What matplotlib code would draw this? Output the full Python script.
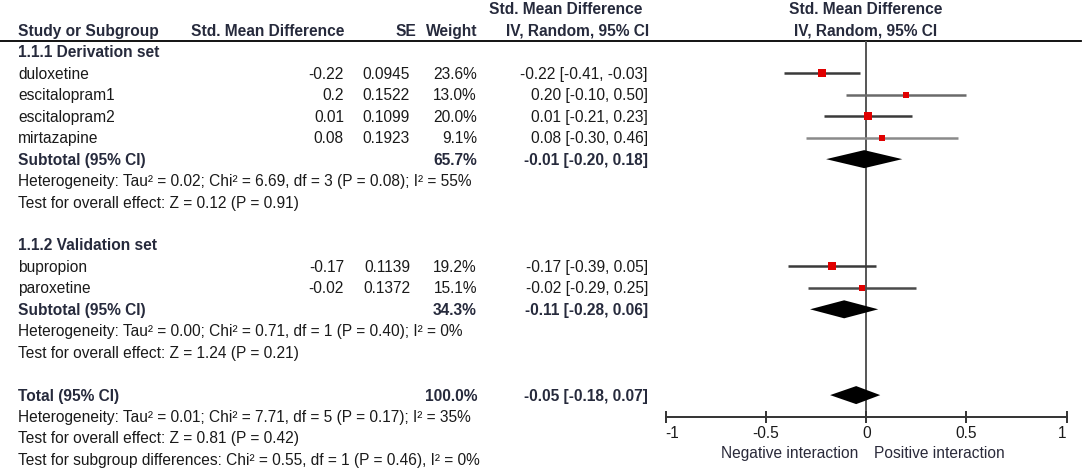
import matplotlib.pyplot as plt

# study level data
studies = ["duloxetine", "escitalopram1", "escitalopram2", "mirtazapine", "bupropion", "paroxetine"]
smd = [-0.22, 0.2, 0.01, 0.08, -0.17, -0.02]
se = [0.0945, 0.1522, 0.1099, 0.1923, 0.1139, 0.1372]
weight = [23.6, 13.0, 20.0, 9.1, 19.2, 15.1]
ci_lo = [-0.41, -0.10, -0.21, -0.30, -0.39, -0.29]
ci_hi = [-0.03, 0.50, 0.23, 0.46, 0.05, 0.25]
study_rows = [3, 4, 5, 6, 12, 13]

# subgroups
group_titles = ["1.1.1 Derivation set", "1.1.2 Validation set"]
group_rows = [2, 11]
sub_est = [-0.01, -0.11]
sub_lo = [-0.20, -0.28]
sub_hi = [0.18, 0.06]
sub_weight = [65.7, 34.3]
sub_rows = [7, 14]
sub_notes = [
    ["Heterogeneity: Tau² = 0.02; Chi² = 6.69, df = 3 (P = 0.08); I² = 55%",
     "Test for overall effect: Z = 0.12 (P = 0.91)"],
    ["Heterogeneity: Tau² = 0.00; Chi² = 0.71, df = 1 (P = 0.40); I² = 0%",
     "Test for overall effect: Z = 1.24 (P = 0.21)"],
]

# overall
total_est, total_lo, total_hi, total_weight = -0.05, -0.18, 0.07, 100.0
total_row = 18
total_notes = [
    "Heterogeneity: Tau² = 0.01; Chi² = 7.71, df = 5 (P = 0.17); I² = 35%",
    "Test for overall effect: Z = 0.81 (P = 0.42)",
    "Test for subgroup differences: Chi² = 0.55, df = 1 (P = 0.46), I² = 0%",
]

xticks = [-1, -0.5, 0, 0.5, 1]
xticklabels = ["-1", "-0.5", "0", "0.5", "1"]

plt.rcParams["font.family"] = ["Liberation Sans", "DejaVu Sans"]
FS = 11.2
TXT = "#1a1a1a"
BOLD = "#262a3c"

W, H = 1084, 477
fig = plt.figure(figsize=(W / 100, H / 100), dpi=100)

# rows: pixel y = 10 + 21.45 * row
row_h = 21.45
ylim = ((H - 10) / row_h, -10 / row_h)

# text table axes (x in pixels)
tx = fig.add_axes([0, 0, 1, 1])
tx.set_xlim(0, W)
tx.set_ylim(*ylim)
tx.axis("off")

# forest axes (x in effect units)
x0, x1 = 665.7, 1066.7
fx = fig.add_axes([x0 / W, 0, (x1 - x0) / W, 1])
fx.set_xlim(-1, 1)
fx.set_ylim(*ylim)
fx.patch.set_alpha(0)


def t(x, row, s, ha="left", bold=False):
    tx.text(x, row, s, ha=ha, va="center", fontsize=FS,
            fontweight="bold" if bold else "normal",
            color=BOLD if bold else TXT)


# headers
t(18, 1, "Study or Subgroup", bold=True)
t(344, 1, "Std. Mean Difference", ha="right", bold=True)
t(416, 1, "SE", ha="right", bold=True)
t(477, 1, "Weight", ha="right", bold=True)
t(566, 0, "Std. Mean Difference", ha="center", bold=True)
t(578, 1, "IV, Random, 95% CI", ha="center", bold=True)
t(866, 0, "Std. Mean Difference", ha="center", bold=True)
t(866, 1, "IV, Random, 95% CI", ha="center", bold=True)
tx.axhline(1.49, xmin=0, xmax=1081 / W, color="black", lw=1.3)

for title, r in zip(group_titles, group_rows):
    t(18, r, title, bold=True)

for name, v, s, w, lo, hi, r in zip(studies, smd, se, weight, ci_lo, ci_hi, study_rows):
    t(18, r, name)
    t(344, r, f"{v:g}", ha="right")
    t(410, r, f"{s:.4f}", ha="right")
    t(477, r, f"{w:.1f}%", ha="right")
    t(648, r, f"{v:.2f} [{lo:.2f}, {hi:.2f}]", ha="right")

for est, lo, hi, w, r, notes in zip(sub_est, sub_lo, sub_hi, sub_weight, sub_rows, sub_notes):
    t(18, r, "Subtotal (95% CI)", bold=True)
    t(477, r, f"{w:.1f}%", ha="right", bold=True)
    t(648, r, f"{est:.2f} [{lo:.2f}, {hi:.2f}]", ha="right", bold=True)
    for i, n in enumerate(notes):
        t(18, r + 1 + i, n)

t(18, total_row, "Total (95% CI)", bold=True)
t(477, total_row, f"{total_weight:.1f}%", ha="right", bold=True)
t(648, total_row, f"{total_est:.2f} [{total_lo:.2f}, {total_hi:.2f}]", ha="right", bold=True)
for i, n in enumerate(total_notes):
    t(18, total_row + 1 + i, n)

# forest plot
axis_row = (418 - 10) / row_h
fx.vlines(0, 1.49, axis_row, color="#555555", lw=1.4, zorder=1)

line_cols = ["#3a3a3a", "#6a6a6a", "#3a3a3a", "#8a8a8a", "#3a3a3a", "#4a4a4a"]
for v, w, lo, hi, r, c in zip(smd, weight, ci_lo, ci_hi, study_rows, line_cols):
    fx.plot([lo, hi], [r, r], color=c, lw=1.8, solid_capstyle="butt", zorder=2)
    fx.plot(v, r, marker="s", color="#e00000", markersize=1.5 + 0.85 * w ** 0.5,
            markeredgewidth=0, zorder=3)

dh = 0.42
for est, lo, hi, r in zip(sub_est + [total_est], sub_lo + [total_lo],
                          sub_hi + [total_hi], sub_rows + [total_row]):
    fx.fill([lo, est, hi, est], [r, r - dh, r, r + dh], color="black", lw=0, zorder=3)

for side in ["top", "right", "left"]:
    fx.spines[side].set_visible(False)
fx.spines["bottom"].set_position(("data", axis_row))
fx.spines["bottom"].set_bounds(-1, 1)
fx.spines["bottom"].set_color("#333333")
fx.spines["bottom"].set_linewidth(1.4)
fx.set_yticks([])
fx.set_xticks(xticks)
fx.set_xticklabels(xticklabels)
fx.tick_params(axis="x", direction="inout", length=9, width=1.4, color="#333333",
               labelsize=FS, labelcolor=TXT, pad=1)
labs = fx.get_xticklabels()
labs[0].set_horizontalalignment("left")
labs[-1].set_horizontalalignment("right")

fx.text(-0.04, axis_row + 1.67, "Negative interaction", ha="right", va="center",
        fontsize=FS, color="#2a2a3a")
fx.text(0.04, axis_row + 1.67, "Positive interaction", ha="left", va="center",
        fontsize=FS, color="#2a2a3a")

fig.savefig("out.png", dpi=100)
